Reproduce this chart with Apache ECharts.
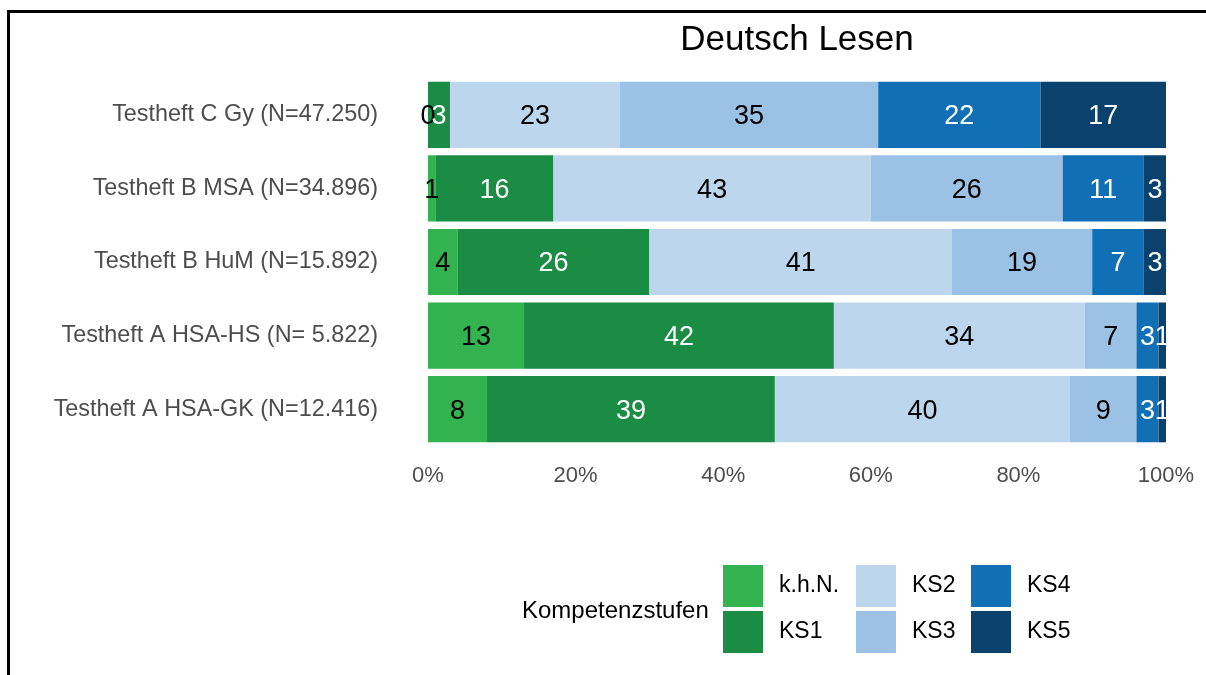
<!DOCTYPE html>
<html>
<head>
<meta charset="utf-8">
<script src="https://cdn.jsdelivr.net/npm/echarts@6/dist/echarts.min.js"></script>
<style>
html,body{margin:0;padding:0;background:#fff;}
#c{width:1206px;height:675px;}
</style>
</head>
<body>
<div id="c"></div>
<script>
const categories = [
  "Testheft A HSA-GK (N=12.416)",
  "Testheft A HSA-HS (N= 5.822)",
  "Testheft B HuM (N=15.892)",
  "Testheft B MSA (N=34.896)",
  "Testheft C Gy (N=47.250)"
];
const seriesNames = ["k.h.N.", "KS1", "KS2", "KS3", "KS4", "KS5"];
const khN = [8, 13, 4, 1, 0];
const ks1 = [39, 42, 26, 16, 3];
const ks2 = [40, 34, 41, 43, 23];
const ks3 = [9, 7, 19, 26, 35];
const ks4 = [3, 3, 7, 11, 22];
const ks5 = [1, 1, 3, 3, 17];
const xTicks = [0, 20, 40, 60, 80, 100];

const values = [khN, ks1, ks2, ks3, ks4, ks5];
const colors = ["#33b34f", "#1a8c44", "#bcd7ed", "#9bc1e4", "#1170b5", "#0a416d"];
const labelColors = ["#000", "#fff", "#000", "#000", "#fff", "#fff"];
const FONT = "Liberation Sans, Arial, sans-serif";

const chart = echarts.init(document.getElementById('c'));
const series = seriesNames.map((n, i) => ({
  name: n,
  type: 'bar',
  stack: 'all',
  barWidth: '90%',
  data: values[i],
  itemStyle: { color: colors[i] },
  label: {
    show: true,
    position: 'inside',
    offset: [0, 2],
    color: labelColors[i],
    fontFamily: FONT,
    fontSize: 27,
    formatter: p => String(p.value)
  },
  emphasis: { disabled: true },
  animation: false
}));

function legendCol(names, left) {
  return {
    data: names,
    orient: 'vertical',
    left: left,
    top: 565,
    padding: 0,
    itemWidth: 40,
    itemHeight: 42,
    itemGap: 4,
    selectedMode: false,
    textStyle: { fontFamily: FONT, fontSize: 23, color: '#000', padding: [10, 0, 0, 11] },
    icon: 'rect'
  };
}

chart.setOption({
  backgroundColor: '#fff',
  animation: false,
  title: {
    text: 'Deutsch Lesen',
    left: 797,
    textAlign: 'center',
    top: 23,
    padding: 0,
    textStyle: { fontFamily: FONT, fontSize: 35, fontWeight: 'normal', color: '#000' }
  },
  grid: { left: 428, right: 40, top: 78, bottom: 229, containLabel: false },
  xAxis: {
    type: 'value',
    min: 0, max: 100, interval: 20,
    axisLine: { show: false },
    axisTick: { show: false },
    splitLine: { show: false },
    axisLabel: {
      formatter: v => xTicks.includes(v) ? v + '%' : '',
      fontFamily: FONT, fontSize: 22, color: '#4d4d4d', margin: 19
    }
  },
  yAxis: {
    type: 'category',
    data: categories,
    axisLine: { show: false },
    axisTick: { show: false },
    axisLabel: { fontFamily: FONT, fontSize: 23.4, color: '#4d4d4d', margin: 50, padding: [4, 0, 0, 0] }
  },
  legend: [
    legendCol(["k.h.N.", "KS1"], 723),
    legendCol(["KS2", "KS3"], 856),
    legendCol(["KS4", "KS5"], 971)
  ],
  graphic: [
    { type: 'rect', shape: { x: 8.5, y: 11.5, width: 1300, height: 800 },
      style: { fill: 'none', stroke: '#000', lineWidth: 3 }, silent: true },
    { type: 'text', left: 522, top: 599,
      style: { text: 'Kompetenzstufen', font: '24px ' + FONT, fill: '#000' } }
  ],
  series: series
});
</script>
</body>
</html>
